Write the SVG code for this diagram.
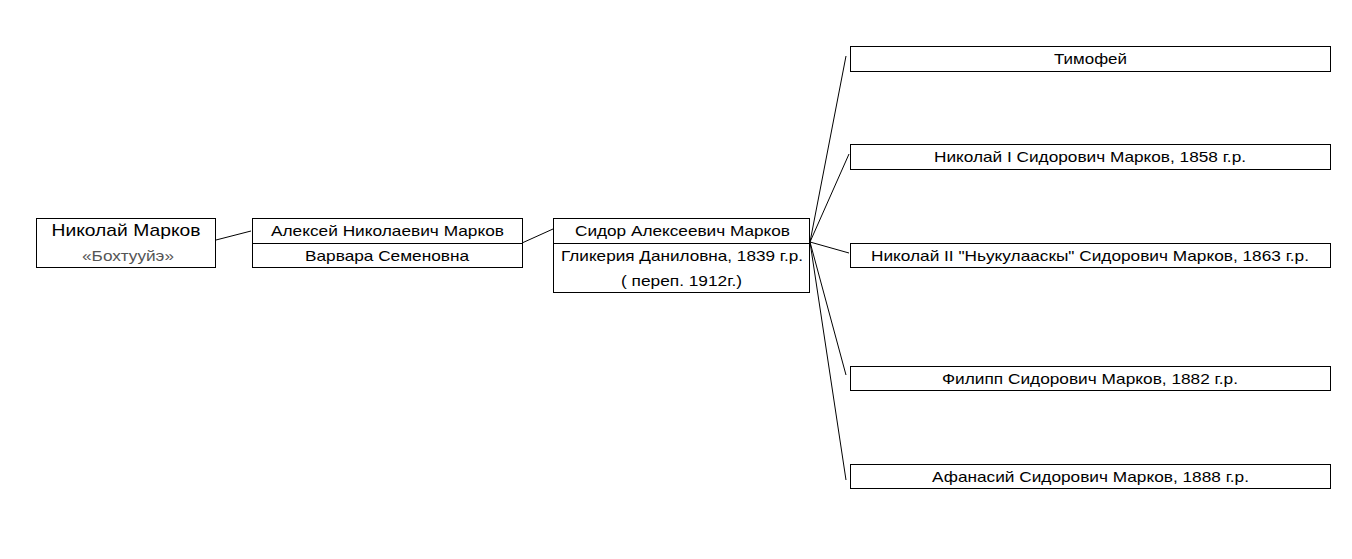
<svg xmlns="http://www.w3.org/2000/svg" width="1352" height="559" viewBox="0 0 1352 559">
<style>
rect.b{fill:#fff;stroke:#000;stroke-width:1}
line.d{stroke:#000;stroke-width:1}
text{font-family:"Liberation Sans",Arial,sans-serif;font-size:15px;fill:#000;text-anchor:middle}
text.big{font-size:17px}
text.nick{fill:#555}
#connectors line{stroke:#000;stroke-width:1}
</style>
<rect width="1352" height="559" fill="#fff"/>
<g id="connectors">
<line x1="216" y1="240" x2="251" y2="231"/>
<line x1="522" y1="243" x2="553" y2="229"/>
<line x1="810" y1="242" x2="846" y2="56"/>
<line x1="810" y1="242" x2="849" y2="154"/>
<line x1="810" y1="242" x2="849" y2="253"/>
<line x1="810" y1="242" x2="846" y2="375"/>
<line x1="810" y1="242" x2="846" y2="480"/>
</g>
<g id="n1">
<rect class="b" x="36.5" y="218.5" width="179" height="49"/>
<text class="big" x="126" y="236" textLength="149" lengthAdjust="spacingAndGlyphs">Николай Марков</text>
<text class="nick" x="128" y="261" textLength="92" lengthAdjust="spacingAndGlyphs">«Бохтууйэ»</text>
</g>
<g id="n2">
<rect class="b" x="252.5" y="218.5" width="270" height="49"/>
<line class="d" x1="252.5" y1="243.5" x2="522.5" y2="243.5"/>
<text x="387.5" y="236" textLength="233" lengthAdjust="spacingAndGlyphs">Алексей Николаевич Марков</text>
<text x="387" y="261" textLength="164" lengthAdjust="spacingAndGlyphs">Варвара Семеновна</text>
</g>
<g id="n3">
<rect class="b" x="553.5" y="218.5" width="256" height="74"/>
<line class="d" x1="553.5" y1="243.5" x2="809.5" y2="243.5"/>
<text x="682.5" y="236" textLength="215" lengthAdjust="spacingAndGlyphs">Сидор Алексеевич Марков</text>
<text x="682" y="261" textLength="242" lengthAdjust="spacingAndGlyphs">Гликерия Даниловна, 1839 г.р.</text>
<text x="681.5" y="286" textLength="121" lengthAdjust="spacingAndGlyphs">( переп. 1912г.)</text>
</g>
<g id="c1">
<rect class="b" x="850.5" y="46.5" width="480" height="25"/>
<text x="1090.5" y="64" textLength="73" lengthAdjust="spacingAndGlyphs">Тимофей</text>
</g>
<g id="c2">
<rect class="b" x="850.5" y="144.5" width="480" height="25"/>
<text x="1090" y="162" textLength="312" lengthAdjust="spacingAndGlyphs">Николай I Сидорович Марков, 1858 г.р.</text>
</g>
<g id="c3">
<rect class="b" x="850.5" y="243.5" width="480" height="24"/>
<text x="1090" y="261" textLength="438" lengthAdjust="spacingAndGlyphs">Николай II "Ньукулааскы" Сидорович Марков, 1863 г.р.</text>
</g>
<g id="c4">
<rect class="b" x="850.5" y="366.5" width="480" height="24"/>
<text x="1090" y="384" textLength="296" lengthAdjust="spacingAndGlyphs">Филипп Сидорович Марков, 1882 г.р.</text>
</g>
<g id="c5">
<rect class="b" x="850.5" y="464.5" width="480" height="24"/>
<text x="1090.5" y="482" textLength="317" lengthAdjust="spacingAndGlyphs">Афанасий Сидорович Марков, 1888 г.р.</text>
</g>
</svg>
